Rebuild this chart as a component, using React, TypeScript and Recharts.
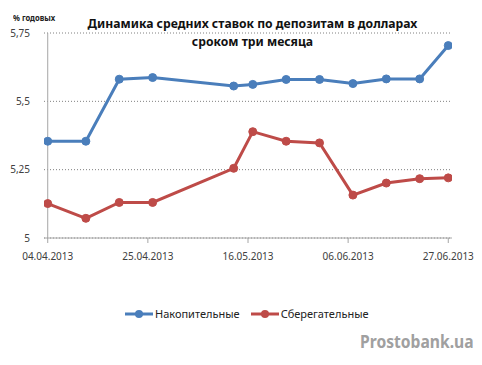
import React from "react";
import { LineChart, Line, XAxis, YAxis, CartesianGrid, ReferenceLine } from "recharts";

const dates = ["04.04.2013", "12.04.2013", "19.04.2013", "26.04.2013", "13.05.2013", "17.05.2013", "24.05.2013", "31.05.2013", "07.06.2013", "14.06.2013", "21.06.2013", "27.06.2013"];
const nakopitelnye = [5.354, 5.354, 5.581, 5.587, 5.556, 5.562, 5.58, 5.58, 5.565, 5.582, 5.582, 5.704];
const sberegatelnye = [5.126, 5.072, 5.13, 5.13, 5.255, 5.389, 5.354, 5.348, 5.157, 5.201, 5.217, 5.22];
const xTickLabels = ["04.04.2013", "25.04.2013", "16.05.2013", "06.06.2013", "27.06.2013"];
const yTicks = [5, 5.25, 5.5, 5.75];
const seriesNames = ["Накопительные", "Сберегательные"];
const title1 = "Динамика средних ставок по депозитам в долларах";
const title2 = "сроком три месяца";
const unitLabel = "% годовых";
const watermark = "Prostobank.ua";

const BLUE = "#4A7EBB";
const RED = "#BE4B48";
const DAY = 86400000;

const parseDate = (s: string) => {
  const [d, m, y] = s.split(".").map(Number);
  return Date.UTC(y, m - 1, d);
};
const fmtDate = (t: number) => {
  const d = new Date(t);
  const p = (n: number) => String(n).padStart(2, "0");
  return `${p(d.getUTCDate())}.${p(d.getUTCMonth() + 1)}.${d.getUTCFullYear()}`;
};
const fmtNum = (v: number) => String(v).replace(".", ",");

const data = dates.map((d, i) => ({ t: parseDate(d), a: nakopitelnye[i], b: sberegatelnye[i] }));
const xTicks = xTickLabels.map(parseDate);
const t0 = parseDate(dates[0]);
const t1 = parseDate(dates[dates.length - 1]);

const FONT = "'Noto Sans', 'Open Sans', sans-serif";

const LegendItem = ({ color, label, gap }: { color: string; label: string; gap: number }) => (
  <div style={{ display: "flex", alignItems: "center", marginRight: gap }}>
    <svg width={28} height={10}>
      <line x1={0} y1={5} x2={28} y2={5} stroke={color} strokeWidth={3} />
      <circle cx={14} cy={5} r={4} fill={color} />
    </svg>
    <span style={{ marginLeft: 2 }}>{label}</span>
  </div>
);

const titleStyle: React.CSSProperties = {
  position: "absolute", left: 0, width: 505, textAlign: "center", fontSize: 13, fontWeight: 700,
  color: "#111", lineHeight: "13px", height: 13, transform: "scaleX(0.937)", transformOrigin: "252px 0", whiteSpace: "nowrap",
};

export default function App() {
  return (
    <div style={{ position: "absolute", left: 0, top: 0, width: 482, height: 365, background: "#fff", overflow: "hidden", fontFamily: FONT }}>
      <LineChart width={482} height={365} data={data} margin={{ top: 33, right: 30, bottom: 97, left: 0 }}>
        <CartesianGrid horizontal vertical={false} stroke="#808080" strokeDasharray="1 2" />
        <XAxis
          dataKey="t"
          type="number"
          domain={[t0 - 0.78 * DAY, t1 + 0.78 * DAY]}
          allowDataOverflow
          ticks={xTicks}
          tickFormatter={fmtDate}
          height={30}
          stroke="#A6A6A6"
          tickSize={5}
          tickMargin={10}
          tick={{ fill: "#404040", fontSize: 10, fontFamily: FONT }}
        />
        <YAxis
          type="number"
          domain={[5, 5.75]}
          ticks={yTicks}
          tickFormatter={fmtNum}
          width={44}
          axisLine={false}
          tickLine={false}
          tickMargin={8}
          tick={{ fill: "#404040", fontSize: 10, fontFamily: FONT }}
        />
        <ReferenceLine x={t0} stroke="#A6A6A6" />
        <Line dataKey="a" name={seriesNames[0]} stroke={BLUE} strokeWidth={3} isAnimationActive={false}
          dot={{ r: 4, fill: BLUE, stroke: BLUE, strokeWidth: 1 }} />
        <Line dataKey="b" name={seriesNames[1]} stroke={RED} strokeWidth={3} isAnimationActive={false}
          dot={{ r: 4, fill: RED, stroke: RED, strokeWidth: 1 }} />
      </LineChart>
      <div style={{ position: "absolute", left: 13, top: 11, fontSize: 9, fontWeight: 700, color: "#222", transform: "scaleX(0.85)", transformOrigin: "left center", whiteSpace: "nowrap" }}>{unitLabel}</div>
      <div style={{ ...titleStyle, top: 17 }}>{title1}</div>
      <div style={{ ...titleStyle, top: 35 }}>{title2}</div>
      <div style={{ position: "absolute", left: 125, top: 306, display: "flex", fontSize: 11, color: "#222" }}>
        <LegendItem color={BLUE} label={seriesNames[0]} gap={11} />
        <LegendItem color={RED} label={seriesNames[1]} gap={0} />
      </div>
      <div style={{ position: "absolute", left: 360, top: 330, fontSize: 17, fontWeight: 700, color: "#A0A0A0", transform: "scaleX(0.92)", transformOrigin: "left center", whiteSpace: "nowrap" }}>{watermark}</div>
    </div>
  );
}
